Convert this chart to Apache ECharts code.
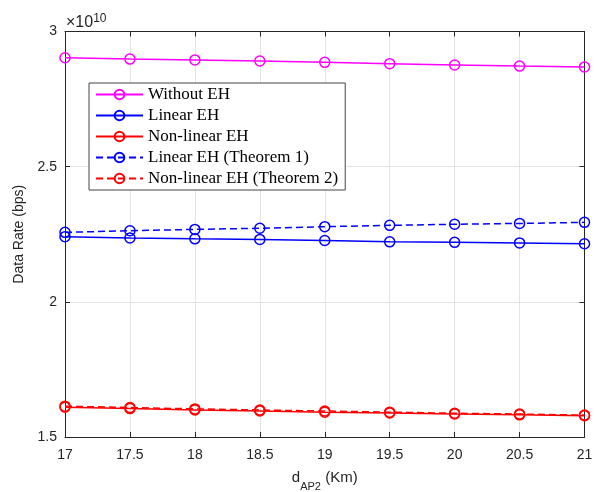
<!DOCTYPE html>
<html>
<head>
<meta charset="utf-8">
<script src="https://cdn.jsdelivr.net/npm/echarts@6/dist/echarts.min.js"></script>
<style>
  html, body { margin: 0; padding: 0; background: #fff; }
  #chart { width: 597px; height: 492px; }
</style>
</head>
<body>
<div id="chart"></div>
<script>
// Distance of AP2 (km) on the horizontal axis
const distances = [17, 17.5, 18, 18.5, 19, 19.5, 20, 20.5, 21];

// Data rate values, in units of 1e10 bps
const rateWithoutEH = [2.903, 2.898, 2.895, 2.891, 2.886, 2.881, 2.876, 2.872, 2.869];
const rateLinearEH = [2.241, 2.236, 2.233, 2.231, 2.227, 2.222, 2.220, 2.218, 2.215];
const rateNonlinearEH = [1.610, 1.605, 1.600, 1.596, 1.592, 1.589, 1.585, 1.582, 1.579];
const rateLinearThm1 = [2.257, 2.263, 2.268, 2.272, 2.278, 2.283, 2.287, 2.290, 2.294];
const rateNonlinearThm2 = [1.614, 1.609, 1.604, 1.600, 1.596, 1.592, 1.588, 1.585, 1.581];

// Axis ticks
const xTicks = { min: 17, max: 21, step: 0.5 };
const yTicks = { min: 1.5, max: 3, step: 0.5 };

const seriesNames = [
  'Without EH',
  'Linear EH',
  'Non-linear EH',
  'Linear EH (Theorem 1)',
  'Non-linear EH (Theorem 2)'
];
const seriesValues = [rateWithoutEH, rateLinearEH, rateNonlinearEH, rateLinearThm1, rateNonlinearThm2];
const seriesColors = ['#ff00ff', '#0000ff', '#ff0000', '#0000ff', '#ff0000'];
const seriesDashed = [false, false, false, true, true];

const axisColor = '#262626';
const labelFont = 'Liberation Sans, Arial, Helvetica, sans-serif';

function pairs(values) {
  return distances.map((d, i) => [d, values[i]]);
}

const series = seriesNames.map((name, i) => ({
  name: name,
  type: 'line',
  xAxisIndex: 0,
  yAxisIndex: 0,
  data: pairs(seriesValues[i]),
  symbol: 'circle',
  symbolSize: 10,
  showAllSymbol: true,
  animation: false,
  z: seriesDashed[i] ? 3 : 2,
  lineStyle: {
    color: seriesColors[i],
    width: 1.5,
    type: seriesDashed[i] ? [7, 4] : 'solid'
  },
  itemStyle: {
    color: 'rgba(255,255,255,0)',
    borderColor: seriesColors[i],
    borderWidth: 1.5
  },
  emphasis: { disabled: true }
}));

const baseX = {
  type: 'value',
  min: xTicks.min,
  max: xTicks.max,
  interval: xTicks.step,
  axisLine: { show: true, onZero: false, lineStyle: { color: axisColor, width: 1 } },
  axisTick: { show: true, inside: true, length: 5, lineStyle: { color: axisColor } },
  splitLine: { show: false }
};
const baseY = {
  type: 'value',
  min: yTicks.min,
  max: yTicks.max,
  interval: yTicks.step,
  axisLine: { show: true, onZero: false, lineStyle: { color: axisColor, width: 1 } },
  axisTick: { show: true, inside: true, length: 5, lineStyle: { color: axisColor } },
  splitLine: { show: false }
};

const chart = echarts.init(document.getElementById('chart'), null, { renderer: 'canvas' });
chart.setOption({
  animation: false,
  backgroundColor: '#fff',
  grid: { left: 65, right: 12.5, top: 31.5, bottom: 55, containLabel: false, outerBoundsMode: 'none' },
  xAxis: [
    Object.assign({}, baseX, {
      position: 'bottom',
      splitLine: { show: true, lineStyle: { color: '#e3e3e3', width: 1 } },
      axisLabel: {
        show: true, margin: 11, color: axisColor, fontSize: 14, fontFamily: labelFont,
        formatter: v => String(v)
      },
      name: 'd{sub|AP2} (Km)',
      nameLocation: 'middle',
      nameGap: 33,
      nameTextStyle: {
        color: axisColor, fontSize: 15, fontFamily: labelFont,
        rich: {
          sub: { fontSize: 11, fontFamily: labelFont, color: axisColor, verticalAlign: 'bottom', padding: [0, 0, -7, 0] }
        }
      }
    }),
    Object.assign({}, baseX, { position: 'top', axisLabel: { show: false } })
  ],
  yAxis: [
    Object.assign({}, baseY, {
      position: 'left',
      splitLine: { show: true, lineStyle: { color: '#e3e3e3', width: 1 } },
      axisLabel: {
        show: true, margin: 8, color: axisColor, fontSize: 14, fontFamily: labelFont,
        formatter: v => String(v)
      },
      name: 'Data Rate (bps)',
      nameLocation: 'middle',
      nameGap: 32,
      nameRotate: 90,
      nameTextStyle: { color: axisColor, fontSize: 14, fontFamily: labelFont }
    }),
    Object.assign({}, baseY, { position: 'right', axisLabel: { show: false } })
  ],
  legend: {
    orient: 'vertical',
    left: 89,
    top: 83,
    padding: [1, 7, 1, 6],
    itemGap: 0,
    itemWidth: 47,
    itemHeight: 12,
    backgroundColor: '#fff',
    borderColor: '#444',
    borderWidth: 1,
    borderRadius: 0,
    textStyle: { fontFamily: 'Liberation Serif, Times New Roman, serif', fontSize: 17, color: '#000', lineHeight: 21 },
    data: seriesNames,
    selectedMode: false
  },
  graphic: [
    {
      type: 'text',
      left: 66,
      top: 13,
      style: {
        text: '×10{sup|10}',
        fill: axisColor,
        font: '16px ' + labelFont,
        rich: {
          sup: { fontSize: 12, fontFamily: labelFont, fill: axisColor, verticalAlign: 'top', padding: [0, 0, 7, 0] }
        }
      }
    }
  ],
  series: series
});
</script>
</body>
</html>
